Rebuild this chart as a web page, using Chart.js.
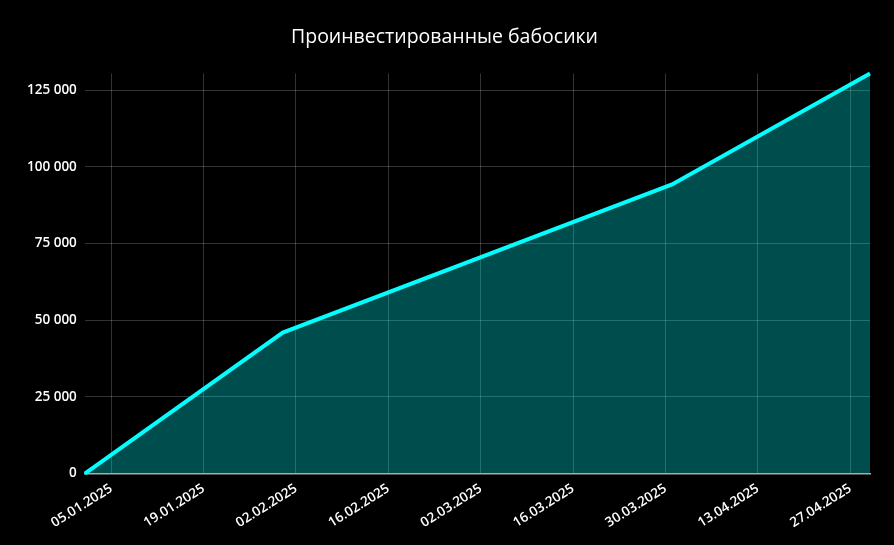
<!DOCTYPE html>
<html>
<head>
<meta charset="utf-8">
<script src="https://cdn.jsdelivr.net/npm/chart.js@4"></script>
<style>
  html, body { margin: 0; padding: 0; background: #000; }
  #wrap { width: 894px; height: 545px; }
</style>
</head>
<body>
<div id="wrap"><canvas id="invest-chart"></canvas></div>
<script>
const dates = ['01.01.2025', '31.01.2025', '31.03.2025', '30.04.2025'];
const invested = [0, 46000, 94300, 130500];
const tickDates = ['05.01.2025', '19.01.2025', '02.02.2025', '16.02.2025', '02.03.2025',
                   '16.03.2025', '30.03.2025', '13.04.2025', '27.04.2025'];
const yTicks = [0, 25000, 50000, 75000, 100000, 125000];

// days since 01.01.2025
function dayOf(str) {
    const [d, m, y] = str.split('.').map(Number);
    return (Date.UTC(y, m - 1, d) - Date.UTC(2025, 0, 1)) / 86400000;
}
function labelOf(day) {
    const dt = new Date(Date.UTC(2025, 0, 1) + day * 86400000);
    const dd = String(dt.getUTCDate()).padStart(2, '0');
    const mm = String(dt.getUTCMonth() + 1).padStart(2, '0');
    return dd + '.' + mm + '.' + dt.getUTCFullYear();
}
function fmt(v) {
    return String(v).replace(/\B(?=(\d{3})+(?!\d))/g, ' ');
}

const points = dates.map((d, i) => ({x: dayOf(d), y: invested[i]}));
const tickFont = {family: '"Open Sans", sans-serif', size: 13.5, weight: '600'};

new Chart(document.getElementById('invest-chart'), {
    type: 'line',
    data: {
        datasets: [{
            data: points,
            borderColor: '#00ffff',
            borderWidth: 4,
            backgroundColor: 'rgba(0, 255, 255, 0.3)',
            fill: 'origin',
            pointRadius: 0,
            tension: 0,
            clip: false
        }]
    },
    options: {
        responsive: true,
        maintainAspectRatio: false,
        animation: false,
        layout: {padding: {left: 19, right: 24, top: 12, bottom: 7}},
        plugins: {
            legend: {display: false},
            tooltip: {enabled: false},
            title: {
                display: true,
                text: 'Проинвестированные бабосики',
                color: '#ffffff',
                font: {family: '"Open Sans", sans-serif', size: 19.5, weight: '500'},
                padding: {top: 14, bottom: 24}
            }
        },
        scales: {
            x: {
                type: 'linear',
                min: dayOf(dates[0]),
                max: dayOf(dates[dates.length - 1]),
                afterBuildTicks: scale => {
                    scale.ticks = tickDates.map(d => ({value: dayOf(d)}));
                },
                ticks: {
                    color: '#ffffff',
                    font: tickFont,
                    maxRotation: 32,
                    minRotation: 32,
                    padding: 7,
                    callback: v => labelOf(v)
                },
                grid: {color: 'rgba(255,255,255,0.2)', drawTicks: false},
                border: {display: true, color: '#aaaaaa', width: 1.5}
            },
            y: {
                min: 0,
                max: invested[invested.length - 1],
                afterBuildTicks: scale => {
                    scale.ticks = yTicks.map(v => ({value: v}));
                },
                ticks: {
                    color: '#ffffff',
                    font: tickFont,
                    padding: 8,
                    callback: v => fmt(v)
                },
                grid: {color: 'rgba(255,255,255,0.2)', drawTicks: false},
                border: {display: false}
            }
        }
    }
});
</script>
</body>
</html>
